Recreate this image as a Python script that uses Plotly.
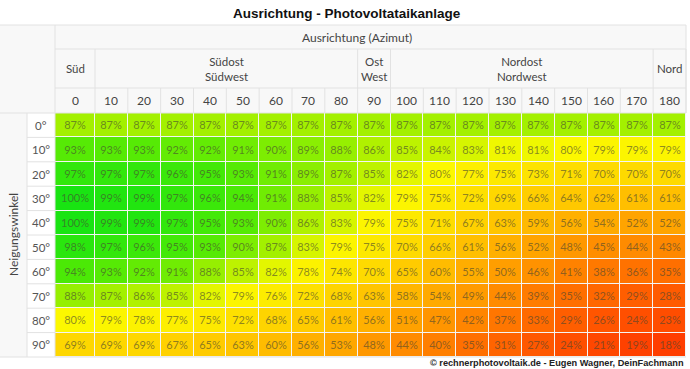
import plotly.graph_objects as go

# ---------------- data ----------------
azimut = [0, 10, 20, 30, 40, 50, 60, 70, 80, 90, 100, 110, 120, 130, 140, 150, 160, 170, 180]
neigung = ["0°", "10°", "20°", "30°", "40°", "50°", "60°", "70°", "80°", "90°"]
groups = [("Süd", 0, 0), ("Südost<br>Südwest", 1, 8), ("Ost<br>West", 9, 9),
          ("Nordost<br>Nordwest", 10, 17), ("Nord", 18, 18)]

row_0 = [87, 87, 87, 87, 87, 87, 87, 87, 87, 87, 87, 87, 87, 87, 87, 87, 87, 87, 87]
row_10 = [93, 93, 93, 92, 92, 91, 90, 89, 88, 86, 85, 84, 83, 81, 81, 80, 79, 79, 79]
row_20 = [97, 97, 97, 96, 95, 93, 91, 89, 87, 85, 82, 80, 77, 75, 73, 71, 70, 70, 70]
row_30 = [100, 99, 99, 97, 96, 94, 91, 88, 85, 82, 79, 75, 72, 69, 66, 64, 62, 61, 61]
row_40 = [100, 99, 99, 97, 95, 93, 90, 86, 83, 79, 75, 71, 67, 63, 59, 56, 54, 52, 52]
row_50 = [98, 97, 96, 95, 93, 90, 87, 83, 79, 75, 70, 66, 61, 56, 52, 48, 45, 44, 43]
row_60 = [94, 93, 92, 91, 88, 85, 82, 78, 74, 70, 65, 60, 55, 50, 46, 41, 38, 36, 35]
row_70 = [88, 87, 86, 85, 82, 79, 76, 72, 68, 63, 58, 54, 49, 44, 39, 35, 32, 29, 28]
row_80 = [80, 79, 78, 77, 75, 72, 68, 65, 61, 56, 51, 47, 42, 37, 33, 29, 26, 24, 23]
row_90 = [69, 69, 69, 67, 65, 63, 60, 56, 53, 48, 44, 40, 35, 31, 27, 24, 21, 19, 18]
z = [row_0, row_10, row_20, row_30, row_40, row_50, row_60, row_70, row_80, row_90]

# ---------------- layout geometry (pixels) ----------------
W, H = 690, 369
X0, X1, XR = 55, 95, 686          # data left, end of first column, right edge
Y_TOP, Y_H1, Y_H2, Y_H3, Y_BOT = 25, 49, 88, 113, 357
LBL_X = 27
colw = (XR - X1) / (len(azimut) - 1)
xedges = [X0] + [X1 + i * colw for i in range(len(azimut))]
rowh = (Y_BOT - Y_H3) / len(neigung)
yedges = [Y_H3 + i * rowh for i in range(len(neigung) + 1)]


def PX(p):
    return p / W


def PY(p):
    return 1 - p / H


colorscale = [
    [0.0, "rgb(255,62,0)"],
    [0.21, "rgb(255,112,0)"],
    [0.39, "rgb(255,158,0)"],
    [0.57, "rgb(255,202,0)"],
    [0.756, "rgb(252,248,0)"],
    [0.84, "rgb(165,240,0)"],
    [0.92, "rgb(80,234,5)"],
    [1.0, "rgb(25,228,18)"],
]

fig = go.Figure(go.Heatmap(
    z=z, x=xedges, y=yedges,
    colorscale=colorscale, zmin=18, zmax=100, showscale=False,
    xgap=1, ygap=1,
    texttemplate="%{z}%",
    textfont=dict(family="Lato", size=11, color="rgba(70,70,50,0.62)"),
    hoverinfo="skip",
))

line = dict(color="#e2e2e2", width=1)
shapes = []
# header background
shapes.append(dict(type="rect", xref="paper", yref="paper", x0=PX(0), x1=PX(XR), y0=PY(Y_H3), y1=PY(Y_TOP),
                   fillcolor="#f8f8f8", line=dict(width=0), layer="below"))
# left column background
shapes.append(dict(type="rect", xref="paper", yref="paper", x0=PX(0), x1=PX(LBL_X), y0=PY(Y_BOT), y1=PY(Y_H3),
                   fillcolor="#f8f8f8", line=dict(width=0), layer="below"))


def hline(y, xa, xb):
    shapes.append(dict(type="line", xref="paper", yref="paper", x0=PX(xa), x1=PX(xb), y0=PY(y), y1=PY(y), line=line))


def vline(x, ya, yb):
    shapes.append(dict(type="line", xref="paper", yref="paper", x0=PX(x), x1=PX(x), y0=PY(ya), y1=PY(yb), line=line))


hline(Y_TOP, 0, XR)
hline(Y_H1, X0, XR)
hline(Y_H2, X0, XR)
hline(Y_H3, 0, XR)
hline(Y_BOT, 0, XR)
for y in yedges[1:-1]:
    hline(y, LBL_X, X0)
vline(X0, Y_TOP, Y_BOT)
vline(LBL_X, Y_H3, Y_BOT)
vline(XR, Y_TOP, Y_H3)
for _, a, b in groups:
    vline(xedges[b + 1], Y_H1, Y_H2)
for xe in xedges[1:]:
    vline(xe, Y_H2, Y_H3)


def note(text, x, y, size, color="#444", family="Lato", xanchor="center", **kw):
    return dict(text=text, x=PX(x), y=PY(y), xref="paper", yref="paper", xanchor=xanchor, yanchor="middle",
                showarrow=False, font=dict(family=family, size=size, color=color), **kw)


ann = []
ann.append(note("<b>Ausrichtung - Photovoltataikanlage</b>", 347, 14, 13.5, "#111", "Liberation Sans"))
ann.append(note("Ausrichtung (Azimut)", 357, (Y_TOP + Y_H1) / 2, 12))
for label, a, b in groups:
    cx = (xedges[a] + xedges[b + 1]) / 2
    ann.append(note(label, cx, (Y_H1 + Y_H2) / 2, 11.5))
for i, az in enumerate(azimut):
    cx = (xedges[i] + xedges[i + 1]) / 2
    ann.append(note(str(az), cx, (Y_H2 + Y_H3) / 2, 12))
for j, n in enumerate(neigung):
    cy = (yedges[j] + yedges[j + 1]) / 2
    ann.append(note(n, (LBL_X + X0) / 2, cy, 11.5, "#555"))
ann.append(note("Neigungswinkel", 13, (Y_H3 + Y_BOT) / 2, 12, textangle=-90))
ann.append(note("<b>© rechnerphotovoltaik.de - Eugen Wagner, DeinFachmann</b>", 686, 363, 9.2, "#222",
                "Liberation Sans", xanchor="right"))

fig.update_layout(
    width=W, height=H, margin=dict(l=0, r=0, t=0, b=0),
    paper_bgcolor="white", plot_bgcolor="#f4f4f4",
    xaxis=dict(domain=[PX(X0), PX(XR)], range=[X0, XR], visible=False, fixedrange=True),
    yaxis=dict(domain=[PY(Y_BOT), PY(Y_H3)], range=[Y_BOT, Y_H3], visible=False, fixedrange=True),
    shapes=shapes, annotations=ann, showlegend=False,
)

fig.write_html("out.html")
